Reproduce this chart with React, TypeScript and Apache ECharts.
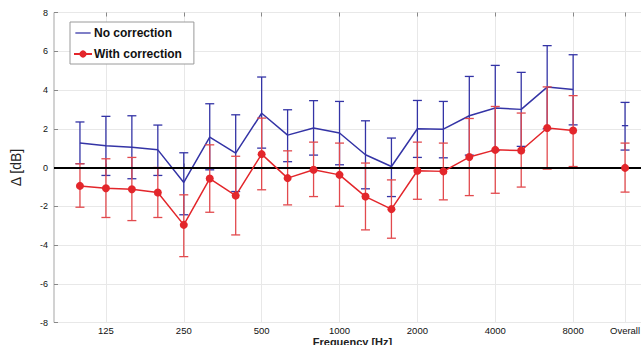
import React, { useEffect, useRef } from "react";
import * as echarts from "echarts";

const freqs = ["100","125","160","200","250","315","400","500","630","800","1000","1250","1600","2000","2500","3150","4000","5000","6300","8000"];
const labeledTicks = ["125","250","500","1000","2000","4000","8000","Overall"];

const noCorrMean = [1.26, 1.12, 1.05, 0.91, -0.77, 1.57, 0.74, 2.8, 1.67, 2.04, 1.78, 0.66, 0.05, 2.0, 1.98, 2.67, 3.07, 3.0, 4.15, 4.02];
const noCorrUpper = [2.35, 2.64, 2.67, 2.19, 0.76, 3.29, 2.72, 4.67, 2.98, 3.45, 3.41, 2.41, 1.52, 3.46, 3.41, 4.7, 5.27, 4.91, 6.29, 5.82];
const noCorrLower = [0.2, -0.41, -0.58, -0.41, -2.44, -0.12, -1.24, 1.0, 0.3, 0.64, 0.14, -1.1, -1.5, 0.52, 0.5, 0.64, 0.87, 1.09, 2.0, 2.2];
const noCorrOverall = [0.9, 2.16, 3.36]; // lower, mean, upper

const withCorrMean = [-0.95, -1.07, -1.12, -1.29, -2.96, -0.57, -1.45, 0.69, -0.55, -0.12, -0.38, -1.5, -2.15, -0.17, -0.2, 0.54, 0.91, 0.88, 2.04, 1.91];
const withCorrUpper = [0.19, 0.45, 0.52, 0.0, -1.41, 1.17, 0.58, 2.55, 0.86, 1.31, 1.26, 0.23, -0.64, 1.31, 1.26, 2.53, 3.15, 2.81, 4.16, 3.71];
const withCorrLower = [-2.05, -2.58, -2.74, -2.58, -4.6, -2.31, -3.48, -1.15, -1.93, -1.5, -2.0, -3.22, -3.65, -1.64, -1.67, -1.45, -1.33, -1.01, -0.08, 0.05];
const withCorrOverall = [-1.27, -0.02, 1.26];

const yTicks = { min: -8, max: 8, interval: 2 };

const BLUE = "#3434a6";
const RED = "#e3262b";
const RED_BAR = "#e24a4e";
const FONT = "Liberation Sans, Arial, sans-serif";

export default function App() {
  const ref = useRef<HTMLDivElement>(null);
  useEffect(() => {
    if (!ref.current) return;
    const chart = echarts.init(ref.current, undefined, { renderer: "svg" });

    // categories: pad, 20 bands, gap (10000), Overall, pad
    const categories = ["", ...freqs, "10000", "Overall", ""];
    const overallIdx = categories.length - 2;
    const build = (vals: number[], overall: number) => {
      const arr: (number | null)[] = categories.map(() => null);
      vals.forEach((v, i) => (arr[i + 1] = v));
      arr[overallIdx] = overall;
      return arr;
    };
    const buildBars = (lo: number[], hi: number[], ov: number[], midTick: boolean, mean: number[]) => {
      const out: number[][] = lo.map((l, i) => [i + 1, l, hi[i], mean[i], 0]);
      out.push([overallIdx, ov[0], ov[2], ov[1], midTick ? 1 : 0]);
      return out;
    };
    const isLabeled = (idx: number) => labeledTicks.includes(categories[idx]);

    const errRender = (color: string) => (params: any, api: any) => {
      const x = api.value(0);
      const lo = api.coord([x, api.value(1)]);
      const hi = api.coord([x, api.value(2)]);
      const w = 4.5;
      const st = { stroke: color, lineWidth: 1.3 };
      const children: any[] = [
        { type: "line", shape: { x1: lo[0], y1: lo[1], x2: hi[0], y2: hi[1] }, style: st },
        { type: "line", shape: { x1: lo[0] - w, y1: lo[1], x2: lo[0] + w, y2: lo[1] }, style: st },
        { type: "line", shape: { x1: hi[0] - w, y1: hi[1], x2: hi[0] + w, y2: hi[1] }, style: st },
      ];
      if (api.value(4) === 1) {
        const m = api.coord([x, api.value(3)]);
        children.push({ type: "line", shape: { x1: m[0] - w * 0.7, y1: m[1], x2: m[0] + w * 0.7, y2: m[1] }, style: st });
      }
      return { type: "group", children };
    };

    const option: any = {
      animation: false,
      backgroundColor: "#ffffff",
      textStyle: { fontFamily: FONT },
      grid: {
        left: 54,
        right: 1,
        top: 12.5,
        bottom: 22.5,
        containLabel: false,
        outerBoundsMode: "none",
        show: true,
        borderColor: "#a5a5a5",
        borderWidth: 1,
        backgroundColor: "#ffffff",
      },
      legend: {
        data: [
          { name: "No correction", icon: "path://M0,0 M0,4.3 L17,4.3 L17,5.7 L0,5.7 Z M17,10" },
          { name: "With correction" },
        ],
        orient: "vertical",
        left: 70,
        top: 22,
        padding: [5, 12, 4, 3],
        itemGap: 9,
        itemWidth: 18,
        itemHeight: 9,
        backgroundColor: "#ffffff",
        borderColor: "#9a9a9a",
        borderWidth: 1,
        borderRadius: 0,
        textStyle: { fontFamily: FONT, fontSize: 12, fontWeight: "bold", color: "#111", padding: [0, 0, 0, -3] },
      },
      xAxis: [
        {
          type: "category",
          data: categories,
          boundaryGap: false,
          name: "Frequency [Hz]",
          nameLocation: "middle",
          nameGap: 14,
          nameMoveOverlap: false,
          nameTextStyle: { fontFamily: FONT, fontSize: 11, fontWeight: "bold", color: "#222", verticalAlign: "top", lineHeight: 11 },
          axisLine: { show: false },
          axisTick: { show: true, inside: true, length: 4, interval: (i: number) => isLabeled(i), lineStyle: { color: "#888" } },
          axisLabel: { interval: (i: number) => isLabeled(i), fontFamily: FONT, fontSize: 9.5, lineHeight: 10, color: "#111", margin: 3, hideOverlap: false },
          splitLine: { show: true, interval: (i: number) => isLabeled(i), lineStyle: { color: "#e8e8e8", width: 1 } },
        },
        {
          type: "category",
          data: categories,
          boundaryGap: false,
          position: "top",
          axisLine: { show: false },
          axisTick: { show: true, inside: true, length: 4, interval: (i: number) => isLabeled(i), lineStyle: { color: "#888" } },
          axisLabel: { show: false },
          splitLine: { show: false },
        },
      ],
      yAxis: {
        type: "value",
        min: yTicks.min,
        max: yTicks.max,
        interval: yTicks.interval,
        name: "Δ [dB]",
        nameLocation: "middle",
        nameRotate: 90,
        nameGap: 31,
        nameMoveOverlap: false,
        nameTextStyle: { fontFamily: FONT, fontSize: 14, color: "#222" },
        axisLine: { show: false },
        axisTick: { show: true, inside: true, length: 4, lineStyle: { color: "#888" } },
        axisLabel: { fontFamily: FONT, fontSize: 9, color: "#111", margin: 6 },
        splitLine: { show: true, lineStyle: { color: "#e8e8e8", width: 1 } },
      },
      series: [
        {
          name: "noCorrBars",
          type: "custom",
          renderItem: errRender(BLUE),
          data: buildBars(noCorrLower, noCorrUpper, noCorrOverall, true, noCorrMean),
          encode: { x: 0, y: [1, 2] },
          z: 2,
          markLine: {
            silent: true,
            symbol: "none",
            label: { show: false },
            lineStyle: { color: "#000", width: 2, type: "solid" },
            data: [{ yAxis: 0 }],
          },
        },
        {
          name: "No correction",
          type: "line",
          data: build(noCorrMean, noCorrOverall[1]),
          symbol: "none",
          connectNulls: false,
          lineStyle: { color: BLUE, width: 1.5 },
          itemStyle: { color: BLUE },
          z: 3,
        },
        {
          name: "withCorrBars",
          type: "custom",
          renderItem: errRender(RED_BAR),
          data: buildBars(withCorrLower, withCorrUpper, withCorrOverall, false, withCorrMean),
          encode: { x: 0, y: [1, 2] },
          z: 4,
        },
        {
          name: "With correction",
          type: "line",
          data: build(withCorrMean, withCorrOverall[1]),
          symbol: "circle",
          symbolSize: 8,
          showSymbol: true,
          connectNulls: false,
          lineStyle: { color: RED, width: 1.5 },
          itemStyle: { color: RED },
          z: 5,
        },
      ],
    };
    chart.setOption(option);
    return () => chart.dispose();
  }, []);
  return (
    <div style={{ position: "fixed", left: 0, top: 0, width: 641, height: 345, overflow: "hidden", background: "#fff" }}>
      <div ref={ref} style={{ width: 652, height: 345 }} />
    </div>
  );
}
